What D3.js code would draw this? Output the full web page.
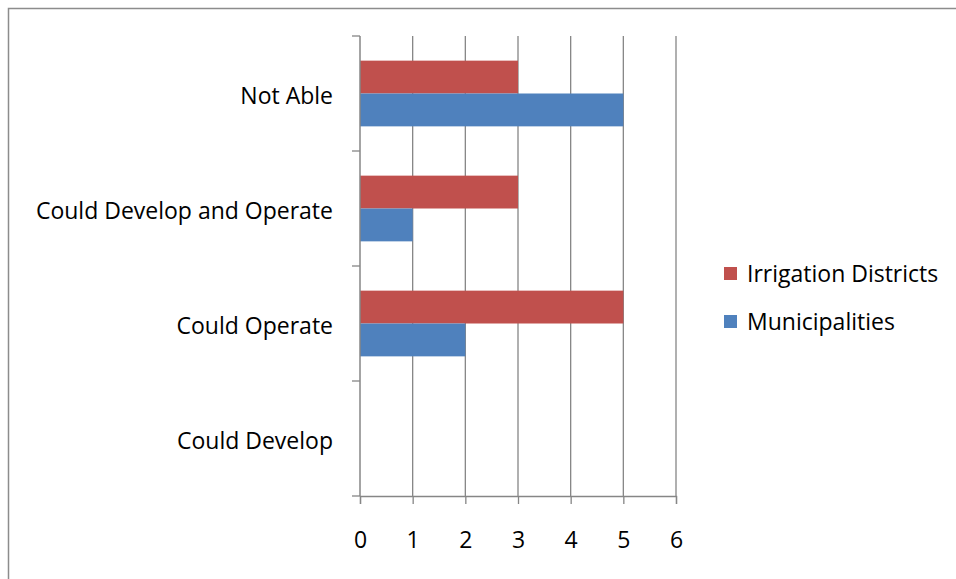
<!DOCTYPE html>
<html>
<head>
<meta charset="utf-8">
<script src="https://cdn.jsdelivr.net/npm/d3@7/dist/d3.min.js"></script>
<style>
  html, body { margin: 0; padding: 0; background: #fff; }
  svg { display: block; }
  text { font-family: "Open Sans", Lato, sans-serif; fill: #000; }
</style>
</head>
<body>
<svg id="chart" width="956" height="579"></svg>
<script>
// Survey categories, listed bottom to top as on the axis
const categories = ["Could Develop", "Could Operate", "Could Develop and Operate", "Not Able"];
const seriesNames = ["Irrigation Districts", "Municipalities"];
const irrigationDistricts = [0, 5, 3, 3];
const municipalities = [0, 2, 1, 5];
const xTicks = [0, 1, 2, 3, 4, 5, 6];
const colors = ["#C0504D", "#4F81BD"];

const svg = d3.select("#chart");
const gridColor = "#868686";
const fontSize = 23;

// Chart frame
svg.append("rect")
  .attr("x", 8.5).attr("y", 8.5)
  .attr("width", 960).attr("height", 600)
  .attr("fill", "none").attr("stroke", "#8c8c8c").attr("stroke-width", 1.5);

const plot = { left: 360, right: 676, top: 36, bottom: 496 };

const x = d3.scaleLinear().domain([0, 6]).range([plot.left, plot.right]);
// Categories run bottom to top
const y = d3.scaleBand().domain(categories.slice().reverse())
  .range([plot.top, plot.bottom]).paddingInner(0).paddingOuter(0);
// Two series inside each category band; gap width 150%
const inner = d3.scaleBand().domain(seriesNames)
  .range([0, y.bandwidth()]).paddingInner(0).paddingOuter(0.75);

const g = svg.append("g");

// Vertical gridlines
g.append("g").selectAll("line")
  .data(xTicks.slice(1))
  .join("line")
  .attr("x1", d => x(d)).attr("x2", d => x(d))
  .attr("y1", plot.top).attr("y2", plot.bottom)
  .attr("stroke", gridColor).attr("stroke-width", 1.3);

// Bars
const rows = categories.map((c, i) => ({ cat: c, vals: [irrigationDistricts[i], municipalities[i]] }));
g.append("g").selectAll("g")
  .data(rows)
  .join("g")
  .attr("transform", d => `translate(0,${y(d.cat)})`)
  .selectAll("rect")
  .data(d => d.vals.map((v, j) => ({ series: seriesNames[j], v, j })))
  .join("rect")
  .attr("x", x(0))
  .attr("y", d => inner(d.series))
  .attr("width", d => x(d.v) - x(0))
  .attr("height", inner.bandwidth())
  .attr("fill", d => colors[d.j]);

// Bottom value axis
const xAxis = d3.axisBottom(x).tickValues(xTicks).tickSize(8).tickPadding(28).tickFormat(d3.format("d"));
const xg = g.append("g").attr("transform", `translate(0,${plot.bottom})`).call(xAxis);
xg.select(".domain").attr("stroke", gridColor).attr("stroke-width", 1.3);
xg.selectAll(".tick line").attr("stroke", gridColor).attr("stroke-width", 1.3);
xg.selectAll(".tick text").attr("font-size", fontSize).attr("font-family", "'Open Sans', sans-serif");

// Left category axis with boundary ticks
const yg = g.append("g");
yg.append("line")
  .attr("x1", plot.left).attr("x2", plot.left)
  .attr("y1", plot.top).attr("y2", plot.bottom)
  .attr("stroke", gridColor).attr("stroke-width", 1.5);
const bounds = categories.map(c => y(c)).concat([plot.bottom]);
yg.selectAll("line.b")
  .data(bounds)
  .join("line").attr("class", "b")
  .attr("x1", plot.left - 8).attr("x2", plot.left)
  .attr("y1", d => d).attr("y2", d => d)
  .attr("stroke", gridColor).attr("stroke-width", 1.3);
yg.selectAll("text")
  .data(categories)
  .join("text")
  .attr("x", plot.left - 27)
  .attr("y", d => y(d) + y.bandwidth() / 2 + 10)
  .attr("text-anchor", "end")
  .attr("font-size", fontSize)
  .text(d => d);

// Legend
const legend = svg.append("g").attr("transform", "translate(724,267)");
const li = legend.selectAll("g")
  .data(seriesNames)
  .join("g")
  .attr("transform", (d, i) => `translate(0,${i * 48})`);
li.append("rect").attr("width", 13).attr("height", 13).attr("fill", (d, i) => colors[i]);
li.append("text").attr("x", 23).attr("y", 15)
  .attr("font-size", fontSize).text(d => d);
</script>
</body>
</html>
